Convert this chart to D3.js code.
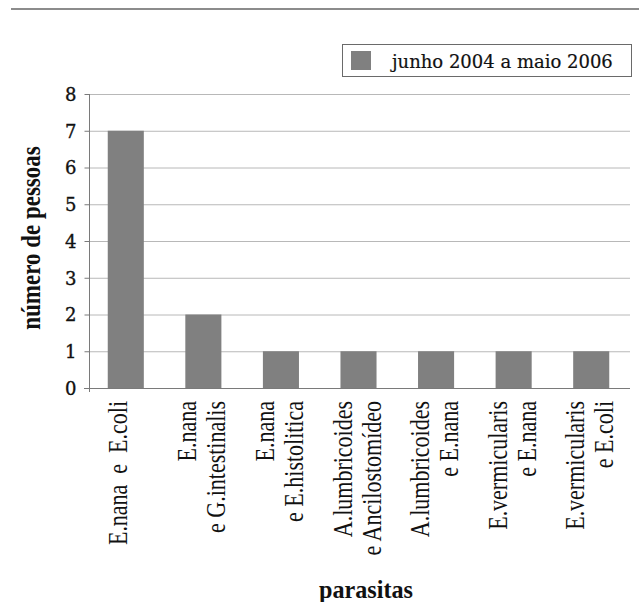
<!DOCTYPE html>
<html>
<head>
<meta charset="utf-8">
<script src="https://cdn.jsdelivr.net/npm/d3@7/dist/d3.min.js"></script>
<style>
  html, body { margin: 0; padding: 0; background: #fff; }
  svg { display: block; }
</style>
</head>
<body>
<svg id="chart" width="639" height="602"></svg>
<script>
// Pares de parasitas encontrados (categorias do eixo x, uma linha por elemento)
const categories = [
  ["E.nana  e  E.coli"],
  ["E.nana", "e G.intestinalis"],
  ["E.nana", "e E.histolitica"],
  ["A.lumbricoides", "e Ancilostomídeo"],
  ["A.lumbricoides", "e E.nana"],
  ["E.vermicularis", "e E.nana"],
  ["E.vermicularis", "e E.coli"]
];
// Número de pessoas em cada par
const values = [7, 2, 1, 1, 1, 1, 1];
const yTicks = [0, 1, 2, 3, 4, 5, 6, 7, 8];
const seriesName = "junho 2004 a maio 2006";
const yTitle = "número de pessoas";
const xTitle = "parasitas";

const svg = d3.select("#chart");
const barColor = "#808080";
const serif = "'Liberation Serif', 'Times New Roman', serif";
const tickFont = "'DejaVu Serif', serif";

const axisX = 89, plotRight = 630, plotTop = 94, plotBottom = 388;

const keys = categories.map((c, i) => i);
const x = d3.scaleBand().domain(keys).range([87, plotRight]).paddingInner(0.535).paddingOuter(0.2675);
const y = d3.scaleLinear().domain([0, 8]).range([plotBottom, plotTop]);

// linha decorativa no topo
svg.append("line")
  .attr("x1", 11).attr("x2", 639).attr("y1", 9).attr("y2", 9)
  .attr("stroke", "#8c8c8c").attr("stroke-width", 2);

// grelha horizontal
svg.append("g").selectAll("line").data(yTicks.filter(t => t > 0)).join("line")
  .attr("x1", axisX).attr("x2", plotRight)
  .attr("y1", d => y(d) + 0.5).attr("y2", d => y(d) + 0.5)
  .attr("stroke", "#b8b8b8").attr("stroke-width", 1);

// barras
svg.append("g").selectAll("rect").data(values).join("rect")
  .attr("x", (d, i) => x(i))
  .attr("width", x.bandwidth())
  .attr("y", d => y(d))
  .attr("height", d => y(0) - y(d))
  .attr("fill", barColor);

// eixo y
const yAxis = d3.axisLeft(y).tickValues(yTicks).tickSize(5).tickPadding(8).tickFormat(d3.format("d"));
const gy = svg.append("g").attr("transform", `translate(${axisX + 0.5},0)`).call(yAxis);
gy.select(".domain").attr("stroke", "#7a7a7a").attr("d", `M0,${plotTop}V${plotBottom + 4}`);
gy.selectAll(".tick line").attr("stroke", "#7a7a7a");
gy.selectAll(".tick text")
  .attr("font-family", tickFont).attr("font-size", 18).attr("fill", "#111")
  .attr("stroke", "#111").attr("stroke-width", 0.35)
  .attr("dy", "0.36em");

// eixo x (linha base)
svg.append("line")
  .attr("x1", axisX - 5).attr("x2", plotRight)
  .attr("y1", plotBottom + 0.5).attr("y2", plotBottom + 0.5)
  .attr("stroke", "#7a7a7a").attr("stroke-width", 1.2);

// rótulos das categorias (verticais)
const labelG = svg.append("g");
categories.forEach((lines, i) => {
  const c = x(i) + x.bandwidth() / 2;
  const n = lines.length;
  lines.forEach((txt, j) => {
    const bx = c + 1 + j * 29 - (n - 1) * 8;
    labelG.append("text")
      .attr("transform", `translate(${bx},401) rotate(-90) scale(1,1.2)`)
      .attr("text-anchor", "end")
      .attr("font-family", serif).attr("font-size", 22)
      .attr("fill", "#111")
      .style("white-space", "pre")
      .text(txt);
  });
});

// título do eixo y
svg.append("text")
  .attr("transform", `translate(40,238) rotate(-90) scale(1,1.15)`)
  .attr("text-anchor", "middle")
  .attr("font-family", serif).attr("font-weight", "bold").attr("font-size", 23)
  .attr("fill", "#111")
  .text(yTitle);

// título do eixo x
svg.append("text")
  .attr("transform", `translate(366,598) scale(1.05,1.1)`)
  .attr("text-anchor", "middle")
  .attr("font-family", serif).attr("font-weight", "bold").attr("font-size", 23)
  .attr("fill", "#111")
  .text(xTitle);

// legenda
const leg = svg.append("g");
leg.append("rect")
  .attr("x", 342.5).attr("y", 44.5).attr("width", 289).attr("height", 32)
  .attr("fill", "#fff").attr("stroke", "#6a6a6a").attr("stroke-width", 1);
leg.append("rect")
  .attr("x", 351).attr("y", 51).attr("width", 20).attr("height", 19)
  .attr("fill", barColor);
leg.append("text")
  .attr("x", 392).attr("y", 68)
  .attr("font-family", tickFont).attr("font-size", 18).attr("fill", "#111")
  .attr("stroke", "#111").attr("stroke-width", 0.2)
  .text(seriesName);
</script>
</body>
</html>
